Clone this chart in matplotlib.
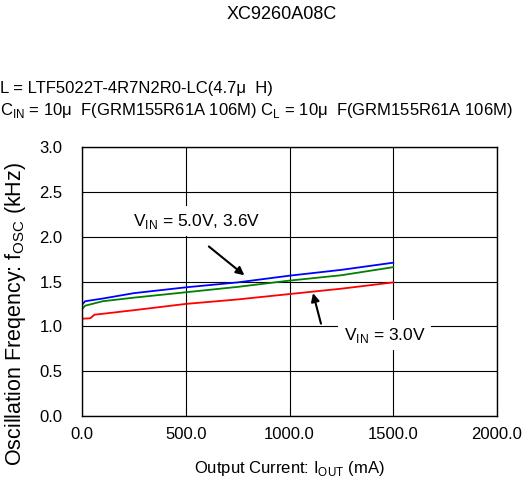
import matplotlib
matplotlib.use("Agg")
import matplotlib.pyplot as plt

plt.rcParams['font.family'] = ['Liberation Sans', 'DejaVu Sans']

# output current (mA) and oscillation frequency (kHz)
iout_blue = [0, 15, 100, 250, 500, 750, 1000, 1250, 1500]
fosc_blue = [1.24, 1.28, 1.31, 1.37, 1.435, 1.49, 1.565, 1.63, 1.71]
iout_green = [0, 15, 100, 250, 500, 750, 1000, 1250, 1500]
fosc_green = [1.19, 1.23, 1.28, 1.32, 1.38, 1.44, 1.51, 1.57, 1.66]
iout_red = [0, 40, 60, 100, 250, 500, 750, 1000, 1250, 1500]
fosc_red = [1.085, 1.09, 1.13, 1.14, 1.18, 1.25, 1.30, 1.36, 1.42, 1.49]

xticks = [0, 500, 1000, 1500, 2000]
yticks = [0.0, 0.5, 1.0, 1.5, 2.0, 2.5, 3.0]

fig = plt.figure(figsize=(5.31, 4.9), dpi=100)
ax = fig.add_axes([0.1544, 0.151, 0.7816, 0.549])

ax.plot(iout_blue, fosc_blue, color='#0000ff', lw=1.3)
ax.plot(iout_green, fosc_green, color='#008000', lw=1.3)
ax.plot(iout_red, fosc_red, color='#ff0000', lw=1.3)

ax.set_xlim(0, 2000)
ax.set_ylim(0, 3.0)
ax.set_xticks(xticks)
ax.set_xticklabels([f"{t:.1f}" for t in xticks])
ax.set_yticks(yticks)
ax.set_yticklabels([f"{t:.1f}" for t in yticks])
ax.tick_params(length=0, labelsize=12)
ax.tick_params(axis='x', pad=8)
ax.tick_params(axis='y', pad=14)
ax.grid(True, color='black', lw=0.8)
ax.set_axisbelow(True)
for s in ax.spines.values():
    s.set_linewidth(1.0)

ax.set_xlabel("Output Current: I$_{\\mathregular{OUT}}$ (mA)", fontsize=12, labelpad=12)
ax.set_ylabel("Oscillation Freqency: f$_{\\mathregular{OSC}}$ (kHz)", fontsize=15.5)
ax.yaxis.set_label_coords(-0.13, 0.379)

ax.annotate("", xy=(793, 1.55), xytext=(601, 1.91),
            arrowprops=dict(arrowstyle='-|>', color='black', lw=1.5, mutation_scale=12))
ax.annotate("", xy=(1110, 1.40), xytext=(1155, 1.00),
            arrowprops=dict(arrowstyle='-|>', color='black', lw=1.5, mutation_scale=12))
ax.text(554, 2.17, "V$_{\\mathregular{IN}}$ = 5.0V, 3.6V", fontsize=12.5, ha='center', va='center',
        bbox=dict(facecolor='white', edgecolor='none', pad=4))
ax.text(1460, 0.90, "V$_{\\mathregular{IN}}$ = 3.0V", fontsize=12.5, ha='center', va='center',
        bbox=dict(facecolor='white', edgecolor='none', pad=4))

fig.text(0.53, 0.971, "XC9260A08C", fontsize=13, ha='center', va='center')
fig.text(0.0, 0.82, "L = LTF5022T-4R7N2R0-LC(4.7μ  H)", fontsize=12, ha='left', va='center')
fig.text(0.0, 0.775, "C$_{\\mathregular{IN}}$ = 10μ  F(GRM155R61A 106M) C$_{\\mathregular{L}}$ = 10μ  F(GRM155R61A 106M)",
         fontsize=12, ha='left', va='center')

fig.savefig("out.png", dpi=100)
